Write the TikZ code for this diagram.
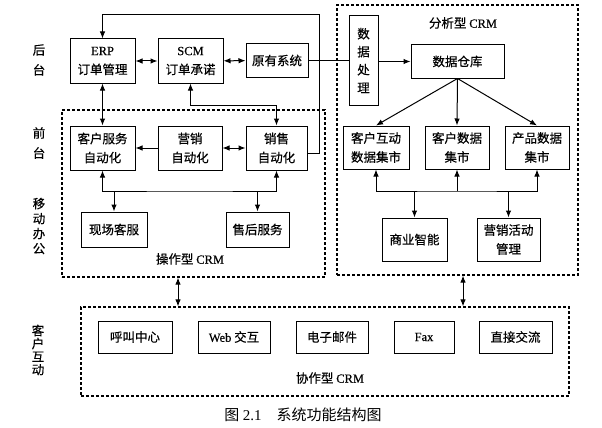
\documentclass[tikz,border=0pt]{standalone}
\usepackage{fontspec}
\setmainfont{Liberation Serif}
\newfontfamily\cjk[FakeBold=0.4]{Noto Sans CJK SC}
\newfontfamily\cjkthin{Noto Sans CJK SC}
\newfontfamily\enfont[FakeBold=0.4]{Liberation Serif}
\usetikzlibrary{arrows.meta}
\newcommand{\en}[1]{{\enfont #1}}

\begin{document}
\begin{tikzpicture}[x=1pt, y=-1pt, line width=1pt,
  >={Latex[length=7pt,width=5.5pt]},
  txt/.style={align=center, font=\cjk\fontsize{12.5}{19}\selectfont},
  box/.style 2 args={draw, txt, inner sep=0pt, minimum width=#1pt, minimum height=#2pt},
  group/.style={draw, line width=1.2pt, dash pattern=on 3pt off 2pt, inner sep=0pt},
  side/.style={align=center, font=\cjk\fontsize{12.5}{#1}\selectfont}]

  \useasboundingbox (0,0) rectangle (602,428);

  \node[side=20] (ht) at (39,60) {后\\台};
  \node[side=20] (qt) at (39,143) {前\\台};
  \node[side=15] (yd) at (39,226) {移\\动\\办\\公};
  \node[side=13] (kh) at (38,350) {客\\户\\互\\动};

  \node[box={65}{44}] (erp) at (102.5,61) {\en{ERP}\\订单管理};
  \node[box={65}{44}] (scm) at (190.5,61) {\en{SCM}\\订单承诺};
  \node[box={62}{33}] (old) at (277,60.5) {原有系统};

  \node[group, minimum width=263pt, minimum height=167pt] (op) at (193.5,193.5) {};
  \node[txt] (optitle) at (190,259) {操作型 \en{CRM}};
  \node[box={65}{44}] (kf) at (102.5,148) {客户服务\\自动化};
  \node[box={64}{44}] (yx) at (190,148) {营销\\自动化};
  \node[box={61}{44}] (xs) at (276.5,148) {销售\\自动化};
  \node[box={66}{35}] (xc) at (114,229.5) {现场客服};
  \node[box={63}{35}] (sh) at (257.5,229.5) {售后服务};

  \node[group, minimum width=241pt, minimum height=270pt] (an) at (457.5,140) {};
  \node[txt] (antitle) at (463,23) {分析型 \en{CRM}};
  \node[box={29}{89}, font=\cjk\fontsize{12.5}{18}\selectfont] (sjcl) at (363.5,60.5) {数\\据\\处\\理};
  \node[box={93}{33}] (ck) at (457.5,61.5) {数据仓库};
  \node[box={66}{43}] (m1) at (376,147.5) {客户互动\\数据集市};
  \node[box={64}{43}] (m2) at (457,147.5) {客户数据\\集市};
  \node[box={64}{43}] (m3) at (537,147.5) {产品数据\\集市};
  \node[box={65}{43}] (bi) at (414.5,239.5) {商业智能};
  \node[box={63}{43}] (hd) at (508.5,239.5) {营销活动\\管理};

  \node[group, minimum width=488pt, minimum height=89pt] (xz) at (325,351.5) {};
  \node[txt] (xztitle) at (330,378) {协作型 \en{CRM}};
  \node[box={74}{32}] (hj) at (135,337) {呼叫中心};
  \node[box={72}{32}] (web) at (234,337) {\en{Web} 交互};
  \node[box={72}{32}] (yj) at (332,337) {电子邮件};
  \node[box={60}{32}] (fax) at (424,337) {\en{Fax}};
  \node[box={73}{32}] (zj) at (515.5,337) {直接交流};

  \node[font=\cjkthin\fontsize{15}{15}\selectfont] (cap) at (303,415) {图 {\rmfamily 2.1}\quad 系统功能结构图};

  \coordinate (top) at (319,15);
  \coordinate (scmbend) at (276.5,105);
  \coordinate (opbus) at (190,191);
  \coordinate (anbus) at (457,191);
  \coordinate (lk1) at (178,0);
  \coordinate (lk2) at (463,0);

  \draw[<->] (erp) -- (scm);
  \draw[<->] (scm) -- (old);
  \draw (old) -- (sjcl);
  \draw[->] (sjcl.east |- ck.west) -- (ck.west);
  \draw[->] ([yshift=-5pt]xs.east) -| (top) -| (erp.north);
  \draw[<->] (erp) -- (kf);
  \draw[<->] (scm.south) |- (scmbend) -- (xs.north);
  \draw[->] (yx) -- (kf);
  \draw[<->] (yx) -- (xs);
  \draw[<->] (kf.south) |- (opbus) -| (xs.south);
  \draw[->] (xc.north |- opbus) -- (xc.north);
  \draw[->] (sh.north |- opbus) -- (sh.north);

  \draw[->] (ck.south) -- (m1.north);
  \draw[->] (ck.south) -- (m2.north);
  \draw[->] (ck.south) -- (m3.north);
  \draw[<->] (m1.south) |- (anbus) -| (m3.south);
  \draw[->] (anbus) -- (m2.south);
  \draw[->] (bi.north |- anbus) -- (bi.north);
  \draw[->] (hd.north |- anbus) -- (hd.north);

  \draw[<->] (op.south -| lk1) -- (xz.north -| lk1);
  \draw[<->] (an.south -| lk2) -- (xz.north -| lk2);

\end{tikzpicture}
\end{document}
